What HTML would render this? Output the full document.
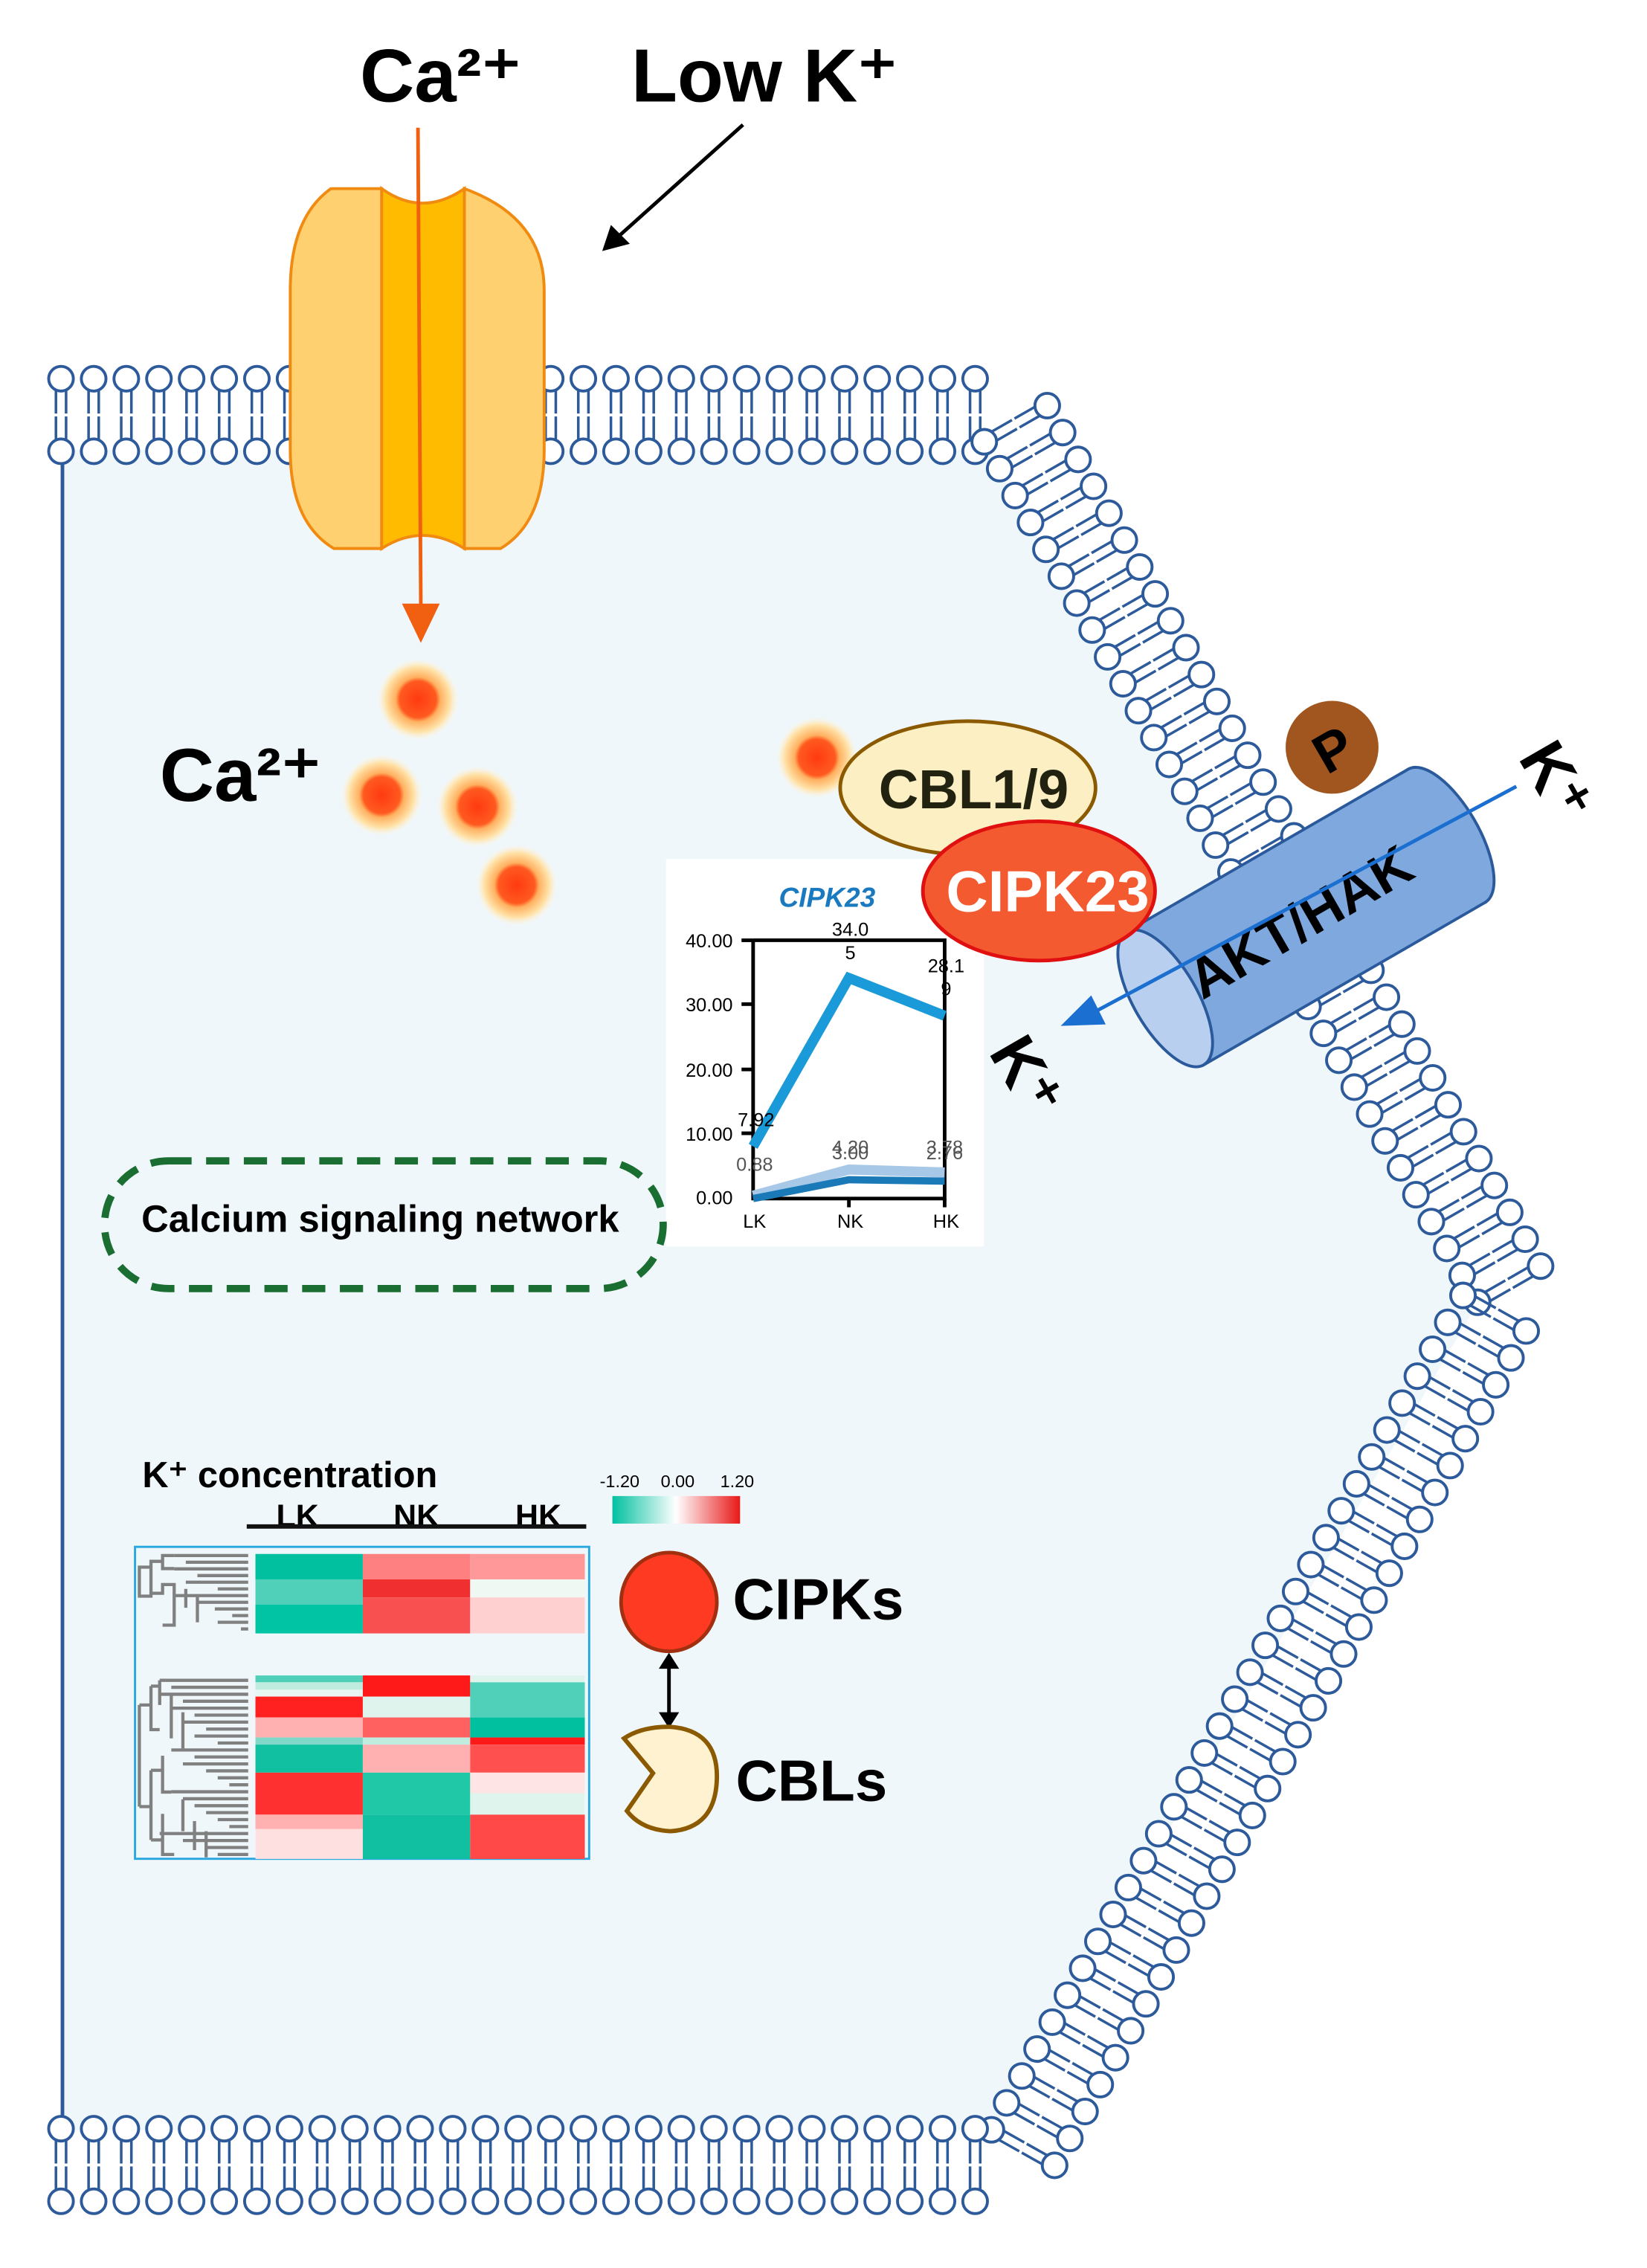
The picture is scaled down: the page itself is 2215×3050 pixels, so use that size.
<!DOCTYPE html>
<html><head><meta charset="utf-8">
<style>
html,body{margin:0;padding:0;background:#fff;}
svg{display:block;}
text{font-family:"Liberation Sans",Arial,sans-serif;}
</style></head>
<body>
<svg id="s" width="2215" height="3050" viewBox="0 0 1135 1563" xmlns="http://www.w3.org/2000/svg">
<defs>
<radialGradient id="ca" cx="50%" cy="50%" r="50%">
<stop offset="0" stop-color="#ff3a10"/>
<stop offset="0.45" stop-color="#ff5a20"/>
<stop offset="0.55" stop-color="#ffb060"/>
<stop offset="0.8" stop-color="#ffe2a8"/>
<stop offset="1" stop-color="#fff4dc" stop-opacity="0"/>
</radialGradient>
<linearGradient id="leg" x1="0" x2="1">
<stop offset="0" stop-color="#00c0a0"/>
<stop offset="0.5" stop-color="#ffffff"/>
<stop offset="1" stop-color="#e81818"/>
</linearGradient>
</defs>
<rect width="1135" height="1563" fill="#fff"/>
<polygon points="42,310 680,310 1019,897 684,1468 42,1468" fill="#f0f7fa"/>
<line x1="43" y1="310" x2="43" y2="1468" stroke="#2d5a9a" stroke-width="2.5"/>
<g id="lip"></g>

<!-- Ca channel -->
<path d="M228,130 Q200,150 200,200 L200,310 Q200,360 230,378 L263,378 L263,130 Z" fill="#ffd070" stroke="#f08a10" stroke-width="2"/>
<path d="M320,130 Q375,150 375,200 L375,310 Q375,360 345,378 L320,378 L320,130 Z" fill="#ffd070" stroke="#f08a10" stroke-width="2"/>
<path d="M263,130 Q291,150 320,130 L320,378 Q291,360 263,378 Z" fill="#ffbb00" stroke="#f08a10" stroke-width="2"/>
<line x1="288" y1="88" x2="290" y2="420" stroke="#f06010" stroke-width="2.5"/>
<polygon points="277,416 303,416 290,443" fill="#f06010"/>

<text x="248" y="70" font-size="52" font-weight="bold">Ca²⁺</text>
<text x="435" y="70" font-size="52" font-weight="bold">Low K⁺</text>
<line x1="512" y1="86" x2="425" y2="164" stroke="#000" stroke-width="2.5"/>
<polygon points="415,173 421,155 434,168" fill="#000"/>

<text x="110" y="552" font-size="52" font-weight="bold">Ca²⁺</text>
<circle cx="288" cy="482" r="28" fill="url(#ca)"/>
<circle cx="263" cy="548" r="28" fill="url(#ca)"/>
<circle cx="329" cy="556" r="28" fill="url(#ca)"/>
<circle cx="356" cy="610" r="28" fill="url(#ca)"/>
<circle cx="563" cy="522" r="28" fill="url(#ca)"/>

<!-- cylinder -->
<g transform="translate(900,632) rotate(-30)">
<rect x="-112" y="-53" width="224" height="106" fill="#7ea8de" stroke="#2b5a9c" stroke-width="2"/>
<ellipse cx="112" cy="0" rx="22" ry="53" fill="#7ea8de" stroke="#2b5a9c" stroke-width="2"/>
<rect x="-112" y="-52" width="224" height="104" fill="#7ea8de"/>
<ellipse cx="-112" cy="0" rx="22" ry="53" fill="#b8cff0" stroke="#2b5a9c" stroke-width="2"/>
<text x="-5" y="14" font-size="38" font-weight="bold" text-anchor="middle">AKT/HAK</text>
</g>
<circle cx="918" cy="515" r="32" fill="#a0561e"/>
<text x="918" y="530" font-size="38" font-weight="bold" text-anchor="middle" transform="rotate(-30 918 515)">P</text>
<line x1="1045" y1="542" x2="755" y2="697" stroke="#1a6fd0" stroke-width="2.5"/>
<polygon points="731,707 752,686 762,706" fill="#1a6fd0"/>
<text x="1070" y="552" font-size="44" font-weight="bold" text-anchor="middle" transform="rotate(60 1070 540)">K⁺</text>
<text x="705" y="755" font-size="44" font-weight="bold" text-anchor="middle" transform="rotate(60 705 743)">K⁺</text>

<!-- chart -->
<rect x="459" y="592" width="219" height="267" fill="#fff"/>
<text x="570" y="625" font-size="19" font-weight="bold" font-style="italic" fill="#1a7ac0" text-anchor="middle">CIPK23</text>
<g stroke="#000" stroke-width="2.5" fill="none">
<path d="M519,648 L519,826 L651,826 L651,648 L519,648"/>
<line x1="511" y1="648" x2="519" y2="648"/>
<line x1="511" y1="692" x2="519" y2="692"/>
<line x1="511" y1="737" x2="519" y2="737"/>
<line x1="511" y1="781" x2="519" y2="781"/>
<line x1="585" y1="826" x2="585" y2="832"/>
<line x1="651" y1="826" x2="651" y2="832"/>
</g>
<polyline points="519,824 585,806 651,808" fill="none" stroke="#a8c8e8" stroke-width="7"/>
<polyline points="519,826 585,813 651,814" fill="none" stroke="#1a7ab8" stroke-width="5"/>
<polyline points="519,790 585,674 651,700" fill="none" stroke="#1a9ad8" stroke-width="7"/>
<g font-size="13" text-anchor="end">
<text x="505" y="653">40.00</text><text x="505" y="697">30.00</text><text x="505" y="742">20.00</text><text x="505" y="786">10.00</text><text x="505" y="830">0.00</text>
</g>
<g font-size="13" text-anchor="middle">
<text x="520" y="846">LK</text><text x="586" y="846">NK</text><text x="652" y="846">HK</text>
<text x="586" y="645">34.0</text><text x="586" y="661">5</text>
<text x="652" y="670">28.1</text><text x="652" y="686">9</text>
<text x="521" y="776">7.92</text>
<text x="520" y="807" fill="#555">0.88</text>
<text x="586" y="795" fill="#555">4.20</text><text x="586" y="799" fill="#555">3.00</text>
<text x="651" y="795" fill="#555">3.78</text><text x="651" y="799" fill="#555">2.76</text>
</g>

<!-- CBL / CIPK23 -->
<ellipse cx="667" cy="543" rx="88" ry="46" fill="#fdefc4" stroke="#8b5a00" stroke-width="2.5"/>
<text x="671" y="557" font-size="38" font-weight="bold" text-anchor="middle" fill="#221">CBL1/9</text>
<ellipse cx="716" cy="614" rx="80" ry="48" fill="#f45a30" stroke="#e01010" stroke-width="2.5"/>
<text x="722" y="628" font-size="40" font-weight="bold" text-anchor="middle" fill="#fff">CIPK23</text>

<!-- dashed -->
<rect x="72" y="800" width="385" height="88" rx="44" fill="none" stroke="#1a6e32" stroke-width="5" stroke-dasharray="16,10"/>
<text x="262" y="849" font-size="26" font-weight="bold" text-anchor="middle">Calcium signaling network</text>

<!-- heatmap -->
<text x="98" y="1025" font-size="25" font-weight="bold">K⁺ concentration</text>
<g font-size="22" font-weight="bold" text-anchor="middle"><text x="205" y="1052">LK</text><text x="287" y="1052">NK</text><text x="371" y="1052">HK</text></g>
<line x1="170" y1="1052" x2="404" y2="1052" stroke="#111" stroke-width="3"/>
<g font-size="12" text-anchor="middle"><text x="427" y="1025">-1.20</text><text x="467" y="1025">0.00</text><text x="508" y="1025">1.20</text></g>
<rect x="422" y="1031" width="88" height="19" fill="url(#leg)"/>
<rect x="93" y="1066" width="313" height="215" fill="#f0f7fa" stroke="#29a8e0" stroke-width="1.5"/>
<g id="hm"></g>
<g id="dend" stroke="#808080" stroke-width="2.2" fill="none"></g>

<ellipse cx="461" cy="1104" rx="33" ry="34" fill="#ff3a22" stroke="#a03010" stroke-width="2.5"/>
<line x1="461" y1="1148" x2="461" y2="1182" stroke="#000" stroke-width="2.5"/>
<polygon points="454,1150 468,1150 461,1139" fill="#000"/>
<polygon points="454,1180 468,1180 461,1191" fill="#000"/>
<path d="M461,1190 Q495,1192 494,1226 Q493,1260 462,1262 Q442,1261 432,1248 L450,1222 L430,1198 Q442,1190 461,1190 Z" fill="#fff2d0" stroke="#8b5a00" stroke-width="3"/>
<text x="505" y="1116" font-size="40" font-weight="bold">CIPKs</text>
<text x="507" y="1241" font-size="40" font-weight="bold">CBLs</text>
</svg>
<script>
var NS="http://www.w3.org/2000/svg";
var lip=document.getElementById('lip');
function el(t,a,p){var e=document.createElementNS(NS,t);for(var k in a)e.setAttribute(k,a[k]);(p||lip).appendChild(e);return e;}
function one(x,y,nx,ny){
  var px=-ny,py=nx;
  for(var s=-1;s<=1;s+=2){
    el('line',{x1:x+nx*8+px*3.5*s,y1:y+ny*8+py*3.5*s,x2:x+nx*24+px*3.5*s,y2:y+ny*24+py*3.5*s,stroke:'#2d5a9a','stroke-width':1.8});
  }
  el('circle',{cx:x,cy:y,r:8.5,fill:'#fff',stroke:'#2d5a9a','stroke-width':2});
}
function seg(ax,ay,bx,by,nx,ny,n){
  for(var i=0;i<n;i++){
    var t=n==1?0:i/(n-1);var x=ax+(bx-ax)*t,y=ay+(by-ay)*t;
    one(x+nx*25,y+ny*25,-nx,-ny);
    one(x-nx*25,y-ny*25,nx,ny);
  }
}
seg(42,286,672,286,0,-1,29);
seg(700,292,1040,885,0.868,-0.498,33);
seg(1030,905,705,1480,0.871,0.49,32);
seg(42,1492,672,1492,0,1,29);

var hm=document.getElementById('hm');
function Y(z){return 1065+(z-373)*0.197;}
var cols=[[176,250],[250,324],[324,403]];
var data=[
 [[403,492,'#00c0a0'],[492,580,'#50d0b8'],[580,681,'#00c4a4'],
  [828,852,'#50d0b8'],[852,878,'#c0ece0'],[878,902,'#e8f6f2'],[902,975,'#ff2020'],[975,1045,'#ffb0b0'],[1045,1070,'#80d8c8'],[1070,1168,'#10c0a0'],[1168,1315,'#ff3030'],[1315,1365,'#ffb0b0'],[1365,1470,'#ffe0e0']],
 [[403,492,'#ff8080'],[492,555,'#f03030'],[555,681,'#f85050'],
  [828,902,'#ff1a1a'],[902,975,'#e0f4ee'],[975,1045,'#ff6060'],[1045,1070,'#c0ece0'],[1070,1168,'#ffb0b0'],[1168,1315,'#20c8a8'],[1315,1470,'#10c0a0']],
 [[403,492,'#ff9898'],[492,555,'#f0f8f4'],[555,681,'#ffd0d0'],
  [828,852,'#e0f4ee'],[852,975,'#50d0b8'],[975,1045,'#00c0a0'],[1045,1070,'#ff1a1a'],[1070,1168,'#ff5050'],[1168,1240,'#ffe4e6'],[1240,1315,'#e0f4ee'],[1315,1470,'#ff4848']]
];
data.forEach(function(c,i){c.forEach(function(r){el('rect',{x:cols[i][0],y:Y(r[0]),width:cols[i][1]-cols[i][0],height:Y(r[1])-Y(r[0]),fill:r[2]},hm);});});
var d=document.getElementById('dend');
function dl(pts){el('polyline',{points:pts},d);}
// top dendrogram
var tx=[120,128,120,136,128,150,120,136,148,160,150,166];
for(var i=0;i<12;i++){var y=1072+i*4.6;el('line',{x1:tx[i],y1:y,x2:171,y2:y},d);}
dl('120,1072 112,1072 112,1081 120,1081');
dl('112,1076 104,1076 104,1100 96,1100 96,1080 104,1080');
dl('104,1098 112,1098 112,1092 120,1092 120,1120 112,1120');
dl('128,1095 128,1108');dl('136,1100 136,1118');
// bottom dendrogram
var bx=[110,118,110,126,118,134,126,142,134,150,118,134,126,142,150,158,118,126,134,142,150,158,110,126,142,150];
for(var i=0;i<26;i++){var y=1158+i*4.8;el('line',{x1:bx[i],y1:y,x2:171,y2:y},d);}
dl('96,1175 96,1245');dl('96,1175 104,1175');dl('96,1245 104,1245');
dl('104,1162 104,1192 110,1192');dl('104,1162 110,1162');
dl('104,1220 104,1268');dl('104,1220 112,1220');dl('104,1268 112,1268');
dl('110,1158 110,1175');dl('118,1168 118,1198');dl('126,1180 126,1205');
dl('112,1210 112,1235 118,1235');dl('112,1250 112,1278 120,1278');
dl('126,1240 126,1262');dl('134,1255 134,1275');dl('142,1262 142,1280');
</script>
</body></html>
